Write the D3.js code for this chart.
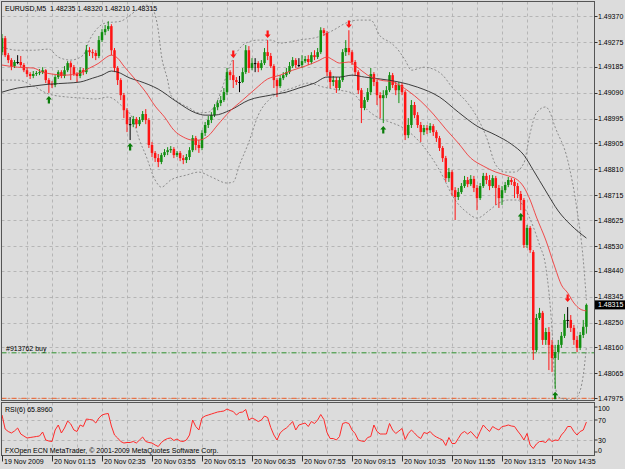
<!DOCTYPE html>
<html>
<head>
<meta charset="utf-8">
<script src="https://cdn.jsdelivr.net/npm/d3@7"></script>
<style>
  body { margin: 0; background: #dcdcdc; }
  text { font-family: "Liberation Sans", Arial, sans-serif; font-size: 7px; fill: #000; white-space: pre; }
</style>
</head>
<body>
<div id="chart"></div>
<script>
// EURUSD M5 bars, oldest first (19 Nov 23:55 .. 20 Nov 15:30)
const open = [
1.49238,1.49289,1.49227,1.49209,1.49187,1.49202,1.49202,1.49191,1.49172,1.49158,
1.49151,1.49158,1.49162,1.49165,1.49172,1.49136,1.49121,1.49118,1.49147,1.49165,
1.49151,1.49172,1.49198,1.49183,1.49158,1.49151,1.49172,1.49165,1.49245,1.49238,
1.49235,1.49224,1.49282,1.49311,1.49322,1.49333,1.49245,1.49180,1.49136,1.49081,
1.49026,1.48975,1.48975,1.48994,1.48975,1.48990,1.49012,1.48990,1.48899,1.48870,
1.48851,1.48837,1.48862,1.48873,1.48880,1.48884,1.48862,1.48870,1.48851,1.48844,
1.48855,1.48880,1.48924,1.48899,1.48888,1.48943,1.48972,1.48990,1.49008,1.49037,
1.49052,1.49063,1.49092,1.49165,1.49154,1.49136,1.49129,1.49129,1.49165,1.49245,
1.49180,1.49198,1.49198,1.49180,1.49198,1.49238,1.49224,1.49187,1.49136,1.49114,
1.49143,1.49154,1.49165,1.49187,1.49209,1.49191,1.49191,1.49205,1.49213,1.49202,
1.49227,1.49220,1.49238,1.49318,1.49308,1.49165,1.49129,1.49136,1.49107,1.49136,
1.49238,1.49253,1.49238,1.49202,1.49165,1.49099,1.49034,1.49063,1.49092,1.49158,
1.49129,1.49081,1.49070,1.49081,1.49099,1.49154,1.49118,1.49099,1.49118,1.49092,
1.48935,1.48972,1.49045,1.49008,1.48972,1.48946,1.48961,1.48953,1.48968,1.48946,
1.48924,1.48888,1.48851,1.48778,1.48800,1.48734,1.48709,1.48727,1.48749,1.48771,
1.48756,1.48775,1.48742,1.48705,1.48749,1.48786,1.48771,1.48749,1.48778,1.48742,
1.48705,1.48734,1.48753,1.48771,1.48764,1.48749,1.48720,1.48698,1.48534,1.48596,
1.48508,1.48150,1.48267,1.48286,1.48187,1.48216,1.48169,1.48121,1.48143,1.48169,
1.48202,1.48260,1.48260,1.48231,1.48187,1.48158,1.48205,1.48235]
const high = [
1.49304,1.49297,1.49235,1.49216,1.49209,1.49227,1.49224,1.49198,1.49180,1.49165,
1.49169,1.49169,1.49176,1.49183,1.49176,1.49143,1.49132,1.49154,1.49172,1.49172,
1.49187,1.49205,1.49205,1.49191,1.49165,1.49183,1.49180,1.49264,1.49256,1.49249,
1.49245,1.49297,1.49322,1.49337,1.49351,1.49340,1.49253,1.49187,1.49143,1.49089,
1.49034,1.49001,1.49005,1.49001,1.49001,1.49023,1.49030,1.48997,1.48910,1.48877,
1.48866,1.48870,1.48884,1.48891,1.48895,1.48891,1.48877,1.48877,1.48862,1.48866,
1.48891,1.48935,1.48932,1.48917,1.48953,1.48983,1.49005,1.49019,1.49048,1.49063,
1.49078,1.49107,1.49180,1.49172,1.49209,1.49147,1.49151,1.49180,1.49264,1.49260,
1.49216,1.49216,1.49205,1.49209,1.49253,1.49282,1.49235,1.49194,1.49143,1.49154,
1.49165,1.49180,1.49202,1.49220,1.49216,1.49216,1.49227,1.49224,1.49227,1.49238,
1.49245,1.49253,1.49329,1.49326,1.49315,1.49172,1.49151,1.49147,1.49147,1.49249,
1.49282,1.49318,1.49245,1.49209,1.49172,1.49107,1.49074,1.49107,1.49180,1.49165,
1.49136,1.49092,1.49099,1.49114,1.49165,1.49162,1.49129,1.49129,1.49125,1.49099,
1.48997,1.49063,1.49056,1.49019,1.48983,1.48972,1.48972,1.48979,1.48975,1.48953,
1.48932,1.48895,1.48859,1.48815,1.48807,1.48745,1.48742,1.48760,1.48786,1.48782,
1.48789,1.48786,1.48753,1.48760,1.48797,1.48797,1.48789,1.48789,1.48786,1.48753,
1.48749,1.48764,1.48782,1.48778,1.48775,1.48760,1.48731,1.48705,1.48607,1.48603,
1.48515,1.48282,1.48304,1.48293,1.48231,1.48234,1.48187,1.48169,1.48187,1.48216,
1.48282,1.48307,1.48278,1.48242,1.48202,1.48216,1.48260,1.48320]
const low = [
1.49227,1.49220,1.49198,1.49172,1.49180,1.49194,1.49183,1.49165,1.49147,1.49140,
1.49143,1.49151,1.49154,1.49158,1.49125,1.49089,1.49107,1.49110,1.49140,1.49143,
1.49143,1.49165,1.49136,1.49151,1.49129,1.49143,1.49154,1.49158,1.49224,1.49216,
1.49209,1.49216,1.49275,1.49300,1.49315,1.49227,1.49165,1.49118,1.49063,1.48997,
1.48946,1.48917,1.48964,1.48961,1.48968,1.48983,1.48975,1.48888,1.48855,1.48837,
1.48818,1.48829,1.48855,1.48862,1.48870,1.48851,1.48855,1.48840,1.48829,1.48833,
1.48844,1.48873,1.48880,1.48870,1.48880,1.48932,1.48961,1.48979,1.49001,1.49026,
1.49041,1.49056,1.49081,1.49136,1.49107,1.49118,1.49092,1.49125,1.49158,1.49162,
1.49172,1.49165,1.49165,1.49172,1.49191,1.49209,1.49180,1.49107,1.49074,1.49107,
1.49136,1.49147,1.49158,1.49180,1.49180,1.49183,1.49180,1.49198,1.49191,1.49194,
1.49209,1.49213,1.49231,1.49297,1.49151,1.49107,1.49114,1.49089,1.49099,1.49129,
1.49224,1.49227,1.49191,1.49151,1.49085,1.48979,1.49026,1.49056,1.49081,1.49114,
1.49045,1.48997,1.48979,1.49070,1.49092,1.49107,1.49081,1.49052,1.49081,1.48917,
1.48924,1.48961,1.48997,1.48961,1.48910,1.48935,1.48939,1.48943,1.48932,1.48910,
1.48877,1.48837,1.48764,1.48764,1.48713,1.48625,1.48698,1.48720,1.48742,1.48745,
1.48749,1.48727,1.48661,1.48698,1.48742,1.48756,1.48734,1.48742,1.48680,1.48669,
1.48680,1.48724,1.48745,1.48753,1.48705,1.48705,1.48661,1.48523,1.48523,1.48505,
1.48114,1.48143,1.48260,1.48169,1.48169,1.48077,1.48070,1.48008,1.48114,1.48158,
1.48194,1.48231,1.48216,1.48169,1.48143,1.48150,1.48194,1.48210]
const close = [
1.49289,1.49227,1.49209,1.49187,1.49202,1.49202,1.49191,1.49172,1.49158,1.49151,
1.49158,1.49162,1.49165,1.49172,1.49136,1.49121,1.49118,1.49147,1.49165,1.49151,
1.49172,1.49198,1.49183,1.49158,1.49151,1.49172,1.49165,1.49245,1.49238,1.49235,
1.49224,1.49282,1.49311,1.49322,1.49333,1.49245,1.49180,1.49136,1.49081,1.49026,
1.48975,1.48975,1.48994,1.48975,1.48990,1.49012,1.48990,1.48899,1.48870,1.48851,
1.48837,1.48862,1.48873,1.48880,1.48884,1.48862,1.48870,1.48851,1.48844,1.48855,
1.48880,1.48924,1.48899,1.48888,1.48943,1.48972,1.48990,1.49008,1.49037,1.49052,
1.49063,1.49092,1.49165,1.49154,1.49136,1.49129,1.49129,1.49165,1.49245,1.49180,
1.49198,1.49198,1.49180,1.49198,1.49238,1.49224,1.49187,1.49136,1.49114,1.49143,
1.49154,1.49165,1.49187,1.49209,1.49191,1.49191,1.49205,1.49213,1.49202,1.49227,
1.49220,1.49238,1.49318,1.49308,1.49165,1.49129,1.49136,1.49107,1.49136,1.49238,
1.49253,1.49238,1.49202,1.49165,1.49099,1.49034,1.49063,1.49092,1.49158,1.49129,
1.49081,1.49070,1.49081,1.49099,1.49154,1.49118,1.49099,1.49118,1.49092,1.48935,
1.48972,1.49045,1.49008,1.48972,1.48946,1.48961,1.48953,1.48968,1.48946,1.48924,
1.48888,1.48851,1.48778,1.48800,1.48734,1.48709,1.48727,1.48749,1.48771,1.48756,
1.48775,1.48742,1.48705,1.48749,1.48786,1.48771,1.48749,1.48778,1.48742,1.48705,
1.48734,1.48753,1.48771,1.48764,1.48749,1.48720,1.48698,1.48534,1.48596,1.48515,
1.48150,1.48267,1.48286,1.48187,1.48216,1.48169,1.48121,1.48143,1.48169,1.48202,
1.48260,1.48260,1.48231,1.48187,1.48158,1.48205,1.48235,1.48315]

// RSI(6), one value per bar
const rsi = [
80,52,47,44,48,54,42,38,34,35, 36,37,38,46,30,28,27,50,60,44,
54,68,62,50,47,60,57,72,71,70, 64,74,80,82,83,58,40,34,27,24,
25,25,27,24,30,36,27,25,24,20, 17,25,30,33,34,29,32,28,27,30,
40,70,57,50,74,78,80,82,84,86, 87,88,92,89,87,80,85,86,91,70,
74,71,67,70,78,75,55,40,30,44, 50,54,60,67,50,60,62,64,57,67,
63,70,81,71,45,33,33,30,37,63, 65,63,50,43,30,28,27,35,37,60,
47,42,42,42,63,50,43,48,53,31, 43,50,44,37,33,45,43,47,40,36,
33,30,19,35,23,23,33,43,47,42, 47,40,33,47,60,53,47,57,53,50,
57,58,60,58,57,48,40,30,43,20, 13,22,27,27,25,33,27,30,29,40,
47,57,57,47,40,47,50,65.896]

// indicator lines: [bar, price]
const maFast = [[0,1.49191],[5,1.49183],[10,1.49180],[13,1.49165],[16,1.49158],[20,1.49154],[25,1.49162],[28,1.49180],[31,1.49198],[33,1.49216],[35,1.49227],[37,1.49216],[39,1.49187],[42,1.49147],[46,1.49092],[49,1.49041],[52,1.49001],[55,1.48953],[58,1.48928],[61,1.48917],[63,1.48917],[66,1.48932],[69,1.48972],[73,1.49023],[77,1.49063],[81,1.49103],[85,1.49140],[89,1.49154],[93,1.49172],[97,1.49187],[101,1.49205],[104,1.49220],[106,1.49209],[108,1.49198],[111,1.49202],[114,1.49180],[117,1.49154],[121,1.49136],[125,1.49129],[130,1.49096],[134,1.49059],[138,1.49012],[142,1.48957],[146,1.48906],[150,1.48851],[154,1.48822],[158,1.48800],[162,1.48786],[165,1.48771],[167,1.48745],[169,1.48698],[171,1.48636],[174,1.48552],[177,1.48450],[179,1.48388],[181,1.48359],[183,1.48322],[185,1.48300],[187,1.48293]]
const maSlow = [[0,1.49092],[5,1.49107],[10,1.49114],[15,1.49121],[21,1.49125],[25,1.49129],[29,1.49143],[32,1.49154],[35,1.49169],[37,1.49165],[41,1.49143],[44,1.49132],[50,1.49103],[56,1.49056],[62,1.49016],[65,1.49008],[68,1.49008],[73,1.49026],[79,1.49063],[86,1.49081],[91,1.49092],[95,1.49107],[100,1.49125],[104,1.49147],[108,1.49147],[112,1.49154],[116,1.49147],[121,1.49140],[127,1.49129],[133,1.49110],[140,1.49074],[146,1.49019],[152,1.48968],[158,1.48935],[163,1.48902],[167,1.48862],[170,1.48807],[174,1.48731],[178,1.48658],[182,1.48607],[187,1.48559]]
const bandUpper = [[0,1.49256],[5,1.49245],[10,1.49245],[15,1.49249],[18,1.49220],[22,1.49209],[26,1.49227],[28,1.49282],[30,1.49318],[33,1.49344],[38,1.49351],[41,1.49373],[44,1.49399],[46,1.49410],[48,1.49399],[50,1.49318],[51,1.49227],[53,1.49136],[54,1.49081],[57,1.49052],[60,1.49034],[63,1.49016],[66,1.49019],[69,1.49063],[71,1.49125],[73,1.49191],[75,1.49235],[78,1.49271],[82,1.49282],[86,1.49282],[89,1.49271],[92,1.49275],[95,1.49282],[101,1.49293],[106,1.49318],[110,1.49344],[114,1.49355],[118,1.49355],[121,1.49297],[124,1.49275],[126,1.49256],[129,1.49209],[131,1.49172],[135,1.49183],[138,1.49176],[141,1.49154],[144,1.49110],[149,1.49052],[152,1.49001],[155,1.48928],[158,1.48826],[161,1.48800],[164,1.48800],[167,1.48833],[169,1.48943],[171,1.49016],[174,1.49038],[175,1.49026],[177,1.48964],[181,1.48844],[184,1.48662],[186,1.48479],[187,1.48333]]
const bandLower = [[0,1.49136],[5,1.49136],[10,1.49114],[15,1.49085],[21,1.49074],[26,1.49070],[30,1.49067],[34,1.49074],[38,1.49045],[42,1.48990],[44,1.48917],[46,1.48862],[49,1.48771],[51,1.48745],[54,1.48771],[59,1.48789],[63,1.48800],[67,1.48782],[72,1.48760],[74,1.48764],[76,1.48826],[79,1.48910],[82,1.49008],[86,1.49070],[89,1.49092],[93,1.49107],[98,1.49125],[103,1.49110],[108,1.49099],[112,1.49089],[117,1.49026],[120,1.49001],[124,1.48983],[128,1.48964],[135,1.48892],[140,1.48807],[145,1.48698],[149,1.48651],[152,1.48632],[156,1.48661],[159,1.48687],[162,1.48698],[165,1.48698],[167,1.48672],[170,1.48600],[172,1.48534],[174,1.48454],[176,1.48224],[177,1.48023],[178,1.47979],[182,1.47968],[184,1.47979],[186,1.48059],[187,1.48161]]

// signal arrows
const arrowUpBars = [15, 41, 122, 166, 177]
const arrowUpPrices = [1.49063, 1.48892, 1.48954, 1.48636, 1.47983]
const arrowDownBars = [74, 85, 111, 181]
const arrowDownPrices = [1.49231, 1.49304, 1.49341, 1.48340]

// order lines
const orderPrice = 1.48140
const stopPrice = 1.47975

// axis labels
const priceTicks = ["1.49370","1.49275","1.49185","1.49090","1.48995","1.48905","1.48810","1.48715","1.48625","1.48530","1.48440","1.48345","1.48250","1.48160","1.48065","1.47975"]
const timeLabels = ["19 Nov 2009","20 Nov 01:15","20 Nov 02:35","20 Nov 03:55","20 Nov 05:15","20 Nov 06:35","20 Nov 07:55","20 Nov 09:15","20 Nov 10:35","20 Nov 11:55","20 Nov 13:15","20 Nov 14:35"]
const timeBars = [0, 16, 32, 48, 64, 80, 96, 112, 128, 144, 160, 176]
const rsiLevels = [100, 70, 30, 0]

const W = 625, H = 469
const panel = {left: 1.5, right: 594.5, top: 1.5, bottom: 400.5, subTop: 402.5, subBottom: 455.5}

var svg = d3.select("#chart")
  .append("svg")
  .attr("width", W)
  .attr("height", H)

svg.append("rect").attr("width", W).attr("height", H).attr("fill", "#dcdcdc")

var x = d3.scaleLinear().domain([0, 187]).range([2, 586.4])
var y = d3.scaleLinear().domain([1.47975, 1.49370]).range([398, 16])
var yRsi = d3.scaleLinear().domain([0, 100]).range([455, 405])

svg.append("clipPath").attr("id", "clipMain")
  .append("rect")
  .attr("x", panel.left).attr("y", panel.top)
  .attr("width", panel.right - panel.left).attr("height", panel.bottom - panel.top)

svg.append("clipPath").attr("id", "clipSub")
  .append("rect")
  .attr("x", panel.left).attr("y", panel.subTop)
  .attr("width", panel.right - panel.left).attr("height", panel.subBottom - panel.subTop)

// grid
var grid = svg.append("g")
  .attr("stroke", "#ababab")
  .attr("stroke-width", 0.8)
  .attr("stroke-dasharray", "3,3")

grid.selectAll(".hgrid")
  .data(priceTicks)
  .enter()
  .append("line")
  .attr("x1", panel.left).attr("x2", panel.right)
  .attr("y1", d => Math.round(y(+d)) + 0.5)
  .attr("y2", d => Math.round(y(+d)) + 0.5)

var gridBars = d3.range(8, 188, 8)
grid.selectAll(".vgrid")
  .data(gridBars)
  .enter()
  .append("line")
  .attr("x1", d => Math.round(x(d)) + 0.5).attr("x2", d => Math.round(x(d)) + 0.5)
  .attr("y1", panel.top).attr("y2", panel.bottom)

grid.selectAll(".vgrid2")
  .data(gridBars)
  .enter()
  .append("line")
  .attr("x1", d => Math.round(x(d)) + 0.5).attr("x2", d => Math.round(x(d)) + 0.5)
  .attr("y1", panel.subTop).attr("y2", panel.subBottom)

grid.selectAll(".rgrid")
  .data([70, 30])
  .enter()
  .append("line")
  .attr("x1", panel.left).attr("x2", panel.right)
  .attr("y1", d => yRsi(d) + 0.5).attr("y2", d => yRsi(d) + 0.5)

var main = svg.append("g").attr("clip-path", "url(#clipMain)")

// order / stop lines
main.append("line")
  .attr("x1", panel.left).attr("x2", panel.right)
  .attr("y1", y(orderPrice)).attr("y2", y(orderPrice))
  .attr("stroke", "#2b8f2b").attr("stroke-width", 1)
  .attr("stroke-dasharray", "5,2,1,2")

main.append("line")
  .attr("x1", panel.left).attr("x2", panel.right)
  .attr("y1", y(stopPrice) + 0.3).attr("y2", y(stopPrice) + 0.3)
  .attr("stroke", "#f0602a").attr("stroke-width", 1)
  .attr("stroke-dasharray", "5,2,1,2")

main.append("text")
  .attr("x", 6).attr("y", y(orderPrice) - 2)
  .text("#913762 buy")

// bollinger bands
var line = d3.line()
  .x(d => x(d[0]))
  .y(d => y(d[1]))
  .curve(d3.curveMonotoneX)

main.selectAll(".band")
  .data([bandUpper, bandLower])
  .enter()
  .append("path")
  .attr("d", line)
  .attr("fill", "none")
  .attr("stroke", "#8c8c8c")
  .attr("stroke-width", 1)
  .attr("stroke-dasharray", "2,2")

// candles
var bars = d3.range(close.length)
var colorOf = i => close[i] > open[i] ? "#108f10" : (close[i] < open[i] ? "#ff1414" : "#000")

main.selectAll(".wick")
  .data(bars)
  .enter()
  .append("line")
  .attr("x1", i => x(i)).attr("x2", i => x(i))
  .attr("y1", i => y(high[i])).attr("y2", i => y(low[i]))
  .attr("stroke", colorOf)
  .attr("stroke-width", 1)

main.selectAll(".body")
  .data(bars)
  .enter()
  .append("rect")
  .attr("x", i => x(i) - 1.25)
  .attr("width", 2.5)
  .attr("y", i => Math.min(y(open[i]), y(close[i])))
  .attr("height", i => Math.max(Math.abs(y(open[i]) - y(close[i])), 1))
  .attr("fill", colorOf)

// moving averages
main.append("path")
  .attr("d", line(maSlow))
  .attr("fill", "none")
  .attr("stroke", "#2a2a2a")
  .attr("stroke-width", 0.9)

main.append("path")
  .attr("d", line(maFast))
  .attr("fill", "none")
  .attr("stroke", "#f03a3a")
  .attr("stroke-width", 0.9)

// arrows
const upArrow = "M0,-4 L3,-0.5 L1.1,-0.5 L1.1,3.5 L-1.1,3.5 L-1.1,-0.5 L-3,-0.5 Z"
const downArrow = "M0,4 L3,0.5 L1.1,0.5 L1.1,-3.5 L-1.1,-3.5 L-1.1,0.5 L-3,0.5 Z"

main.selectAll(".up")
  .data(arrowUpBars)
  .enter()
  .append("path")
  .attr("d", upArrow)
  .attr("transform", (d, k) => "translate(" + x(d) + "," + y(arrowUpPrices[k]) + ")")
  .attr("fill", "#0a7d0a")

main.selectAll(".down")
  .data(arrowDownBars)
  .enter()
  .append("path")
  .attr("d", downArrow)
  .attr("transform", (d, k) => "translate(" + x(d) + "," + y(arrowDownPrices[k]) + ")")
  .attr("fill", "#ff1414")

// RSI panel
var rsiLine = d3.line()
  .x((d, i) => x(i))
  .y(d => yRsi(d))

svg.append("g").attr("clip-path", "url(#clipSub)")
  .append("path")
  .attr("d", rsiLine(rsi))
  .attr("fill", "none")
  .attr("stroke", "#ff2a2a")
  .attr("stroke-width", 1)

// frames
svg.append("rect")
  .attr("x", panel.left).attr("y", panel.top)
  .attr("width", panel.right - panel.left).attr("height", panel.bottom - panel.top)
  .attr("fill", "none").attr("stroke", "#555")

svg.append("rect")
  .attr("x", panel.left).attr("y", panel.subTop)
  .attr("width", panel.right - panel.left).attr("height", panel.subBottom - panel.subTop)
  .attr("fill", "none").attr("stroke", "#555")

// price axis
var pa = svg.append("g")
pa.selectAll("line")
  .data(priceTicks)
  .enter()
  .append("line")
  .attr("x1", panel.right).attr("x2", panel.right + 3)
  .attr("y1", d => Math.round(y(+d)) + 0.5).attr("y2", d => Math.round(y(+d)) + 0.5)
  .attr("stroke", "#333")
pa.selectAll("text")
  .data(priceTicks)
  .enter()
  .append("text")
  .attr("x", 598)
  .attr("y", d => y(+d) + 2.5)
  .text(d => d)

// current price marker
var last = close[close.length - 1]
svg.append("rect")
  .attr("x", 595).attr("y", y(last) - 4.5)
  .attr("width", 30).attr("height", 9)
  .attr("fill", "#000")
svg.append("text")
  .attr("x", 598).attr("y", y(last) + 2.5)
  .style("fill", "#fff")
  .text(last.toFixed(5))

// RSI axis
var ra = svg.append("g")
ra.selectAll("line")
  .data(rsiLevels)
  .enter()
  .append("line")
  .attr("x1", panel.right).attr("x2", panel.right + 3)
  .attr("y1", d => Math.min(Math.max(yRsi(d), 407), 452)).attr("y2", d => Math.min(Math.max(yRsi(d), 407), 452))
  .attr("stroke", "#333")
ra.selectAll("text")
  .data(rsiLevels)
  .enter()
  .append("text")
  .attr("x", 598)
  .attr("y", d => Math.min(Math.max(yRsi(d), 408), 450) + 2.5)
  .text(d => d)

// time axis
var ta = svg.append("g")
ta.selectAll("line")
  .data(timeBars)
  .enter()
  .append("line")
  .attr("x1", d => Math.round(x(d)) + 0.5).attr("x2", d => Math.round(x(d)) + 0.5)
  .attr("y1", panel.subBottom).attr("y2", panel.subBottom + 6)
  .attr("stroke", "#333")
ta.selectAll("text")
  .data(timeLabels)
  .enter()
  .append("text")
  .attr("x", (d, k) => x(timeBars[k]) + 2)
  .attr("y", 463.5)
  .text(d => d)

// titles
var n = close.length - 1
svg.append("text")
  .attr("x", 5).attr("y", 11)
  .text("EURUSD,M5  " + [open[n], high[n], low[n], close[n]].map(d => d.toFixed(5)).join(" "))

svg.append("text")
  .attr("x", 5).attr("y", 412)
  .text("RSI(6) " + rsi[n].toFixed(4))

svg.append("text")
  .attr("x", 5).attr("y", 452.5)
  .text("FXOpen ECN MetaTrader, \u00a9 2001-2009 MetaQuotes Software Corp.")
</script>
</body>
</html>
